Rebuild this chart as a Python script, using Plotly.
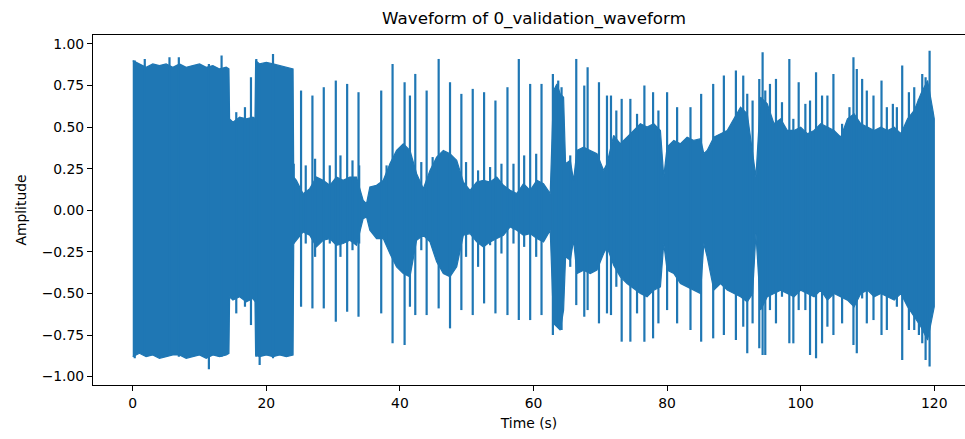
import plotly.graph_objects as go

# ---- data (seconds, amplitude) ----
# dense "body" envelope of the waveform
core_t = [0.0, 1, 2, 3, 4, 5, 6, 7, 8, 9, 10, 11, 12, 13, 14, 14.4, 14.5, 15, 16, 17, 18, 18.3, 18.4,
          19, 20, 21, 22, 23, 24, 24.1, 24.5, 25.5, 26.5, 27.5, 28.5, 29.5, 30.5, 31.5, 32.5, 33.5,
          34.5, 35.0, 35.5, 36.5, 37.5, 38.5, 39.5, 40.5, 41.5, 42.5, 43.5, 44.5, 45.5, 46.5, 47.5,
          48.5, 49.5, 50.5, 51.5, 52.5, 53.5, 54.5, 55.5, 56.5, 57.5, 58.5, 59.5, 60.5, 61.5, 62.5,
          63.0, 63.5, 64.0, 64.5, 64.8, 65.5, 66.0, 66.5, 67.5, 68.5, 69.5, 70.5, 71.0, 72.0, 73.0,
          74.0, 75.0, 76.0, 77.0, 78.0, 79.0, 79.5, 80.0, 81.0, 82.0, 83.0, 84.0, 85.0, 85.5, 86.0,
          87.0, 88.0, 89.0, 90.0, 91.0, 92.0, 92.8, 93.3, 94.0, 95.0, 96.0, 97.0, 98.0, 99.0, 100.0,
          101.0, 102.0, 103.0, 104.0, 105.0, 106.0, 107.0, 108.0, 109.0, 110.0, 111.0, 112.0, 113.0,
          114.0, 115.0, 116.0, 117.0, 118.0, 119.0, 119.8, 120.0]
core_hi = [0.90, 0.88, 0.86, 0.88, 0.87, 0.88, 0.86, 0.88, 0.86, 0.87, 0.88, 0.86, 0.87, 0.85, 0.86, 0.85, 0.55, 0.53, 0.56, 0.55, 0.56, 0.55, 0.90,
           0.88, 0.89, 0.88, 0.87, 0.86, 0.85, 0.20, 0.18, 0.10, 0.13, 0.20, 0.18, 0.15, 0.20, 0.18, 0.20, 0.20,
           0.06, 0.04, 0.14, 0.15, 0.18, 0.28, 0.36, 0.40, 0.36, 0.22, 0.13, 0.24, 0.32, 0.36, 0.34,
           0.30, 0.17, 0.12, 0.17, 0.18, 0.17, 0.20, 0.15, 0.12, 0.10, 0.16, 0.12, 0.18, 0.16, 0.10,
           0.72, 0.76, 0.70, 0.68, 0.28, 0.30, 0.18, 0.36, 0.38, 0.36, 0.34, 0.24, 0.28, 0.45, 0.40,
           0.44, 0.48, 0.52, 0.50, 0.52, 0.48, 0.20, 0.38, 0.42, 0.40, 0.44, 0.42, 0.43, 0.34, 0.36,
           0.44, 0.46, 0.48, 0.55, 0.62, 0.58, 0.35, 0.20, 0.68, 0.64, 0.52, 0.55, 0.48, 0.48, 0.50,
           0.46, 0.48, 0.52, 0.50, 0.48, 0.44, 0.55, 0.58, 0.52, 0.50, 0.48, 0.50, 0.48,
           0.50, 0.46, 0.55, 0.60, 0.70, 0.78, 0.60, 0.55]
core_lo = [-0.88, -0.86, -0.88, -0.87, -0.89, -0.88, -0.87, -0.87, -0.89, -0.88, -0.87, -0.89, -0.87, -0.88, -0.87, -0.86, -0.52, -0.54, -0.52, -0.55, -0.53, -0.55, -0.87,
           -0.88, -0.87, -0.88, -0.87, -0.88, -0.87, -0.20, -0.18, -0.13, -0.15, -0.22, -0.18, -0.17, -0.21, -0.20, -0.18, -0.21,
           -0.05, -0.04, -0.12, -0.17, -0.17, -0.26, -0.34, -0.38, -0.40, -0.18, -0.15, -0.19, -0.31, -0.38, -0.40,
           -0.34, -0.15, -0.14, -0.19, -0.22, -0.19, -0.17, -0.15, -0.10, -0.12, -0.15, -0.14, -0.17, -0.19, -0.12,
           -0.68, -0.70, -0.72, -0.60, -0.28, -0.30, -0.18, -0.38, -0.36, -0.38, -0.36, -0.26, -0.22, -0.33, -0.40,
           -0.44, -0.47, -0.50, -0.52, -0.48, -0.46, -0.20, -0.36, -0.38, -0.44, -0.46, -0.48, -0.50, -0.20, -0.28,
           -0.48, -0.44, -0.48, -0.50, -0.52, -0.55, -0.50, -0.14, -0.60, -0.52, -0.50, -0.48, -0.50, -0.52, -0.48,
           -0.50, -0.52, -0.48, -0.54, -0.50, -0.52, -0.54, -0.58, -0.50, -0.48, -0.52, -0.50, -0.52,
           -0.54, -0.50, -0.58, -0.64, -0.70, -0.78, -0.62, -0.58]

# individual peaks that stick out of the body
spike_t = [0.3, 1.8, 5.5, 6.9, 11.4, 13.3, 15.5, 16.8, 17.7, 18.5, 19.0, 21.0,
           24.1, 25.2, 25.9, 26.9, 27.3, 28.6, 29.5, 30.4, 31.1, 32.1, 32.9, 33.8, 33.9,
           37.2, 38.0, 38.9, 40.7, 41.5, 42.3, 43.2, 44.0, 44.9, 45.8, 47.5, 49.2, 49.9,
           50.9, 51.7, 52.6, 53.5, 54.3, 55.2, 56.1, 57.0, 57.8, 58.6, 59.5, 60.4, 61.2,
           62.9, 63.7, 64.2, 65.5, 66.4, 67.6, 68.1, 69.8, 71.0, 71.6, 72.4, 73.2, 74.5,
           75.5, 76.6, 77.9, 78.7, 80.0, 81.5, 83.5, 85.1, 86.9, 88.5, 90.3, 91.4, 92.0,
           92.8, 93.8, 94.3, 94.7, 95.4, 96.3, 97.2, 98.3, 98.9, 99.7, 100.7, 101.4, 102.3,
           103.2, 104.0, 104.9, 106.2, 107.3, 107.9, 108.4, 109.2, 109.9, 110.9, 112.1,
           112.9, 113.8, 114.4, 115.2, 116.2, 117.0, 117.7, 118.2, 118.7, 119.3]
spike_hi = [0.90, 0.91, 0.92, 0.92, 0.88, 0.93, 0.59, 0.62, 0.80, 0.91, 0.88, 0.94,
            0.28, 0.72, 0.27, 0.69, 0.31, 0.74, 0.27, 0.78, 0.33, 0.76, 0.30, 0.71, 0.27,
            0.72, 0.27, 0.88, 0.77, 0.69, 0.82, 0.29, 0.72, 0.32, 0.91, 0.77, 0.70, 0.29,
            0.73, 0.24, 0.71, 0.26, 0.66, 0.28, 0.74, 0.28, 0.91, 0.33, 0.76, 0.34, 0.76,
            0.82, 0.78, 0.74, 0.33, 0.91, 0.75, 0.86, 0.77, 0.69, 0.69, 0.60, 0.67, 0.67,
            0.58, 0.75, 0.71, 0.60, 0.71, 0.62, 0.62, 0.70, 0.76, 0.81, 0.84, 0.81, 0.70,
            0.66, 0.79, 0.95, 0.72, 0.76, 0.79, 0.65, 0.91, 0.55, 0.77, 0.64, 0.66, 0.83,
            0.69, 0.69, 0.82, 0.52, 0.62, 0.92, 0.85, 0.79, 0.72, 0.69, 0.78,
            0.62, 0.64, 0.62, 0.87, 0.71, 0.74, 0.67, 0.82, 0.80, 0.96]
spike_lo = [-0.89, -0.86, -0.85, -0.88, -0.956, -0.88, -0.62, -0.58, -0.69, -0.88, -0.93, -0.89,
            -0.20, -0.58, -0.20, -0.59, -0.28, -0.59, -0.20, -0.67, -0.28, -0.61, -0.24, -0.64, -0.20,
            -0.62, -0.20, -0.80, -0.81, -0.58, -0.63, -0.24, -0.63, -0.22, -0.59, -0.71, -0.60, -0.28,
            -0.63, -0.34, -0.56, -0.21, -0.62, -0.26, -0.63, -0.20, -0.66, -0.22, -0.66, -0.28, -0.63,
            -0.75, -0.70, -0.72, -0.34, -0.57, -0.64, -0.60, -0.68, -0.62, -0.63, -0.46, -0.79, -0.79,
            -0.62, -0.79, -0.77, -0.68, -0.60, -0.68, -0.72, -0.79, -0.77, -0.75, -0.78, -0.70, -0.86,
            -0.68, -0.83, -0.87, -0.87, -0.60, -0.68, -0.52, -0.80, -0.80, -0.60, -0.60, -0.87, -0.89,
            -0.80, -0.70, -0.75, -0.68, -0.50, -0.81, -0.86, -0.53, -0.68, -0.66, -0.75,
            -0.72, -0.53, -0.58, -0.90, -0.72, -0.72, -0.75, -0.80, -0.90, -0.94]

y_ticks = [-1.0, -0.75, -0.5, -0.25, 0.0, 0.25, 0.5, 0.75, 1.0]
x_ticks = [0, 20, 40, 60, 80, 100, 120]

BLUE = "#1f77b4"
FONT = "DejaVu Sans"

fig = go.Figure()

# body of the waveform as a filled band
fig.add_trace(go.Scatter(
    x=core_t + core_t[::-1],
    y=core_hi + core_lo[::-1],
    mode="lines", fill="toself", fillcolor=BLUE,
    line=dict(color=BLUE, width=1.2), hoverinfo="skip", showlegend=False))

# peaks as vertical strokes
sx, sy = [], []
for t, hi, lo in zip(spike_t, spike_hi, spike_lo):
    sx += [t, t, None]
    sy += [lo, hi, None]
fig.add_trace(go.Scatter(x=sx, y=sy, mode="lines",
                         line=dict(color=BLUE, width=2.2), showlegend=False))

fig.update_layout(
    width=965, height=439,
    margin=dict(l=93, r=0, t=35, b=54),
    paper_bgcolor="white", plot_bgcolor="white",
    font=dict(family=FONT, size=13.9, color="black"),
    title=dict(text="Waveform of 0_validation_waveform", x=(534 - 93) / 872, xref="paper",
               xanchor="center", y=1 - 18 / 439, yanchor="middle",
               font=dict(family=FONT, size=16.7, color="black")),
    xaxis=dict(range=[-5.95, 124.6], tickvals=x_ticks, ticks="outside", ticklen=5,
               tickwidth=1, tickcolor="black", showgrid=False, zeroline=False,
               showline=True, linecolor="black", linewidth=1, mirror=True,
               tickfont=dict(family=FONT, size=13.9, color="black"),
               title=dict(text="Time (s)", standoff=8,
                          font=dict(family=FONT, size=13.9, color="black"))),
    yaxis=dict(range=[-1.0505, 1.054], tickvals=y_ticks, tickformat=".2f", ticks="outside",
               ticklen=5, tickwidth=1, tickcolor="black", showgrid=False, zeroline=False,
               showline=True, linecolor="black", linewidth=1, mirror=False,
               tickfont=dict(family=FONT, size=13.9, color="black"),
               title=dict(text="Amplitude", standoff=11,
                          font=dict(family=FONT, size=13.9, color="black"))),
)

fig.write_html("out.html")
